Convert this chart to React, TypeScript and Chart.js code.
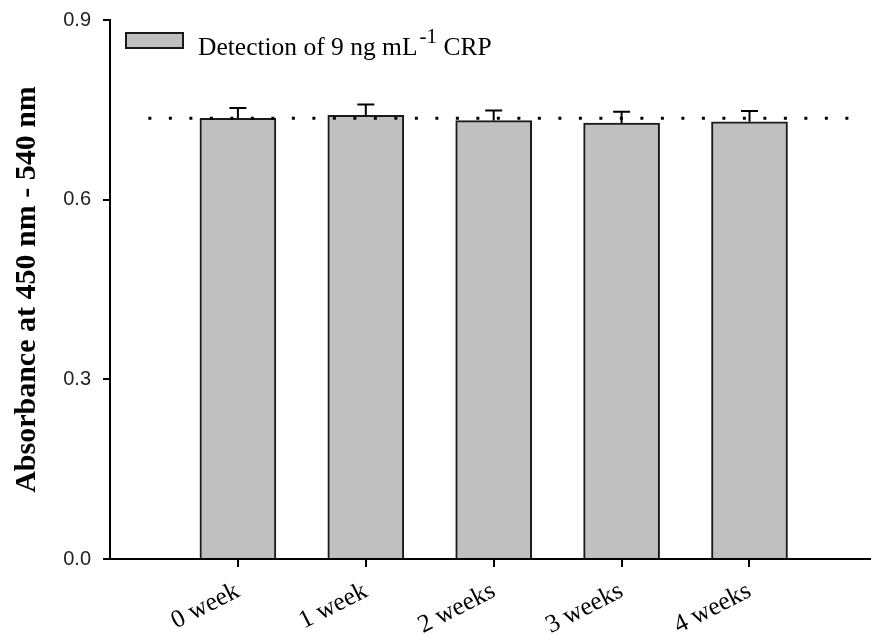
import React, { useEffect, useRef } from 'react';
import { Chart, registerables } from 'chart.js';

Chart.register(...registerables);

// ---- data ----
const categories = ['0 week', '1 week', '2 weeks', '3 weeks', '4 weeks'];
const positions = [1, 2, 3, 4, 5];
const absorbance = [0.736, 0.741, 0.732, 0.728, 0.73];
const errors = [0.017, 0.018, 0.017, 0.019, 0.018];
const referenceLevel = 0.736;
const referenceSpan = [0.3, 5.78];
const yTickValues = [0, 0.3, 0.6, 0.9];
const legendMain = 'Detection of 9 ng mL';
const legendSup = '-1';
const legendTail = ' CRP';
const yTitle = 'Absorbance at 450 nm - 540 nm';

const SERIF = '"Liberation Serif", "Times New Roman", serif';
const SANS = '"Liberation Sans", Arial, sans-serif';

const errorBarPlugin = {
  id: 'errorBars',
  afterDatasetsDraw(chart: any) {
    const meta = chart.getDatasetMeta(1);
    const y = chart.scales.y;
    const ctx = chart.ctx;
    ctx.save();
    ctx.strokeStyle = '#000';
    ctx.lineWidth = 2;
    meta.data.forEach((bar: any, i: number) => {
      const top = y.getPixelForValue(absorbance[i] + errors[i]);
      ctx.beginPath();
      ctx.moveTo(bar.x, bar.y);
      ctx.lineTo(bar.x, top);
      ctx.moveTo(bar.x - 8.5, top);
      ctx.lineTo(bar.x + 8.5, top);
      ctx.stroke();
    });
    ctx.restore();
  },
};

const legendPlugin = {
  id: 'customLegend',
  afterDraw(chart: any) {
    const { ctx, chartArea } = chart;
    const bx = chartArea.left + 16;
    const by = chartArea.top + 13;
    ctx.save();
    ctx.fillStyle = '#c0c0c0';
    ctx.fillRect(bx, by, 57, 15);
    ctx.strokeStyle = '#1a1a1a';
    ctx.lineWidth = 2;
    ctx.strokeRect(bx, by, 57, 15);
    const base = chartArea.top + 35;
    let x = bx + 72;
    ctx.fillStyle = '#000';
    ctx.textBaseline = 'alphabetic';
    ctx.textAlign = 'left';
    ctx.font = `25.5px ${SERIF}`;
    ctx.fillText(legendMain, x, base);
    x += ctx.measureText(legendMain).width + 2;
    ctx.font = `21px ${SERIF}`;
    ctx.fillText(legendSup, x, base - 12);
    x += ctx.measureText(legendSup).width;
    ctx.font = `25.5px ${SERIF}`;
    ctx.fillText(legendTail, x, base);
    ctx.restore();
  },
};

export default function App() {
  const canvasRef = useRef<HTMLCanvasElement | null>(null);

  useEffect(() => {
    const canvas = canvasRef.current;
    if (!canvas) return;
    const chart = new Chart(canvas, {
      type: 'bar',
      data: {
        datasets: [
          {
            type: 'line',
            data: referenceSpan.map((x) => ({ x, y: referenceLevel })),
            borderColor: '#000',
            borderWidth: 3,
            borderDash: [3, 17.5],
            pointRadius: 0,
            fill: false,
            order: 0,
          } as any,
          {
            type: 'bar',
            label: legendMain + legendSup + legendTail,
            data: positions.map((x, i) => ({ x, y: absorbance[i] })),
            backgroundColor: '#c0c0c0',
            borderColor: '#1a1a1a',
            borderWidth: 2,
            borderSkipped: 'bottom',
            barThickness: 76,
            order: 1,
          } as any,
        ],
      },
      options: {
        responsive: false,
        animation: false,
        layout: { padding: { top: 12, right: 0, left: 0, bottom: 0 } },
        plugins: {
          legend: { display: false },
          tooltip: { enabled: false },
        },
        scales: {
          x: {
            type: 'linear',
            min: 0,
            max: 5.95,
            offset: false,
            grid: {
              offset: false,
              drawOnChartArea: false,
              drawTicks: true,
              tickLength: 8,
              color: '#000',
              lineWidth: 2,
            },
            border: { display: true, color: '#000', width: 2 },
            afterBuildTicks: (scale: any) => {
              scale.ticks = positions.map((v) => ({ value: v }));
            },
            afterFit: (scale: any) => {
              scale.height = 75;
            },
            ticks: {
              autoSkip: false,
              maxRotation: 27,
              minRotation: 27,
              padding: 9,
              color: '#000',
              font: { family: SERIF, size: 25.5 },
              callback: (v: any) => {
                const idx = positions.indexOf(Number(v));
                return idx >= 0 ? categories[idx] : '';
              },
            },
          },
          y: {
            type: 'linear',
            min: 0,
            max: 0.9,
            afterBuildTicks: (scale: any) => {
              scale.ticks = yTickValues.map((v) => ({ value: v }));
            },
            afterFit: (scale: any) => {
              scale.width = 110;
            },
            grid: {
              drawOnChartArea: false,
              drawTicks: true,
              tickLength: 7,
              color: '#000',
              lineWidth: 2,
            },
            border: { display: true, color: '#000', width: 2 },
            ticks: {
              padding: 12,
              color: '#222',
              font: { family: SANS, size: 20 },
              callback: (v: any) => Number(v).toFixed(1),
            },
            title: {
              display: true,
              text: yTitle,
              color: '#000',
              font: { family: SERIF, size: 30, weight: 'bold' },
              padding: { top: 9, bottom: 0 },
            },
          },
        },
      },
      plugins: [errorBarPlugin, legendPlugin],
    } as any);
    return () => chart.destroy();
  }, []);

  return (
    <div style={{ position: 'absolute', left: 0, top: -4, width: 871, height: 638, background: '#fff' }}>
      <canvas ref={canvasRef} width={871} height={638} style={{ display: 'block' }} />
    </div>
  );
}
